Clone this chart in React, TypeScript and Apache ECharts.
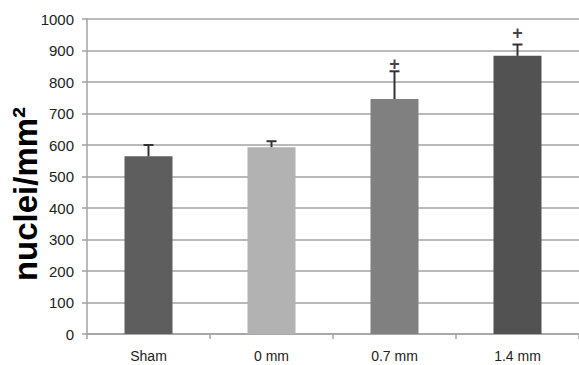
import React, { useEffect, useRef } from "react";
import * as echarts from "echarts";

const categories = ["Sham", "0 mm", "0.7 mm", "1.4 mm"];
const means = [564, 593, 746, 883];
const errors = [36, 19, 88, 36];
const barColors = ["#5e5e5e", "#b2b2b2", "#808080", "#525252"];
const sigMarks = [null, null, 857, 955];
const yTicks = [0, 100, 200, 300, 400, 500, 600, 700, 800, 900, 1000];

export default function App() {
  const ref = useRef<HTMLDivElement>(null);
  useEffect(() => {
    if (!ref.current) return;
    const chart = echarts.init(ref.current, undefined, { renderer: "svg" });
    const font = "'Liberation Sans', Arial, sans-serif";
    chart.setOption({
      animation: false,
      grid: { left: 87, top: 19, width: 494, height: 315 },
      xAxis: {
        type: "category",
        data: categories,
        axisLine: { lineStyle: { color: "#a3a3a3", width: 1.5 } },
        axisTick: { show: true, length: 5, lineStyle: { color: "#a3a3a3", width: 1.5 } },
        axisLabel: { color: "#222", fontSize: 14, fontFamily: font, margin: 15 },
      },
      yAxis: {
        type: "value",
        min: yTicks[0],
        max: yTicks[yTicks.length - 1],
        interval: 100,
        axisLine: { show: true, lineStyle: { color: "#a3a3a3", width: 1.5 } },
        axisTick: { show: true, length: 5, lineStyle: { color: "#a3a3a3", width: 1.5 } },
        axisLabel: {
          color: "#222",
          fontSize: 15,
          fontFamily: font,
          margin: 13,
          formatter: (v: number) => String(v),
        },
        splitLine: { lineStyle: { color: "#a3a3a3", width: 1.5 } },
      },
      graphic: [
        {
          type: "text",
          x: 25,
          y: 194,
          rotation: Math.PI / 2,
          style: {
            text: "nuclei/mm²",
            fontSize: 33,
            fontWeight: "bold",
            fontFamily: font,
            fill: "#000",
            align: "center",
            verticalAlign: "middle",
          },
        },
      ],
      series: [
        {
          type: "bar",
          barWidth: 48,
          data: means.map((v, i) => ({ value: v, itemStyle: { color: barColors[i] } })),
          z: 2,
        },
        {
          type: "custom",
          z: 3,
          data: means.map((v, i) => [i, v, v + errors[i]]),
          encode: { x: 0, y: [1, 2] },
          renderItem: (params: any, api: any) => {
            const x = api.value(0);
            const lo = api.coord([x, api.value(1)]);
            const hi = api.coord([x, api.value(2)]);
            const style = { stroke: "#333", lineWidth: 2 };
            return {
              type: "group",
              children: [
                { type: "line", shape: { x1: lo[0], y1: lo[1], x2: hi[0], y2: hi[1] }, style },
                { type: "line", shape: { x1: hi[0] - 5, y1: hi[1], x2: hi[0] + 5, y2: hi[1] }, style },
              ],
            };
          },
        },
        {
          type: "scatter",
          symbolSize: 0,
          z: 4,
          data: sigMarks.map((v, i) => (v == null ? null : [i, v])).filter((d) => d),
          label: {
            show: true,
            position: "inside",
            formatter: "+",
            fontSize: 18,
            fontWeight: "bold",
            fontFamily: font,
            color: "#111",
          },
        },
      ],
    });
    return () => chart.dispose();
  }, []);
  return (
    <div
      ref={ref}
      style={{ position: "fixed", left: 0, top: 0, width: 579, height: 365, background: "#fff" }}
    />
  );
}
